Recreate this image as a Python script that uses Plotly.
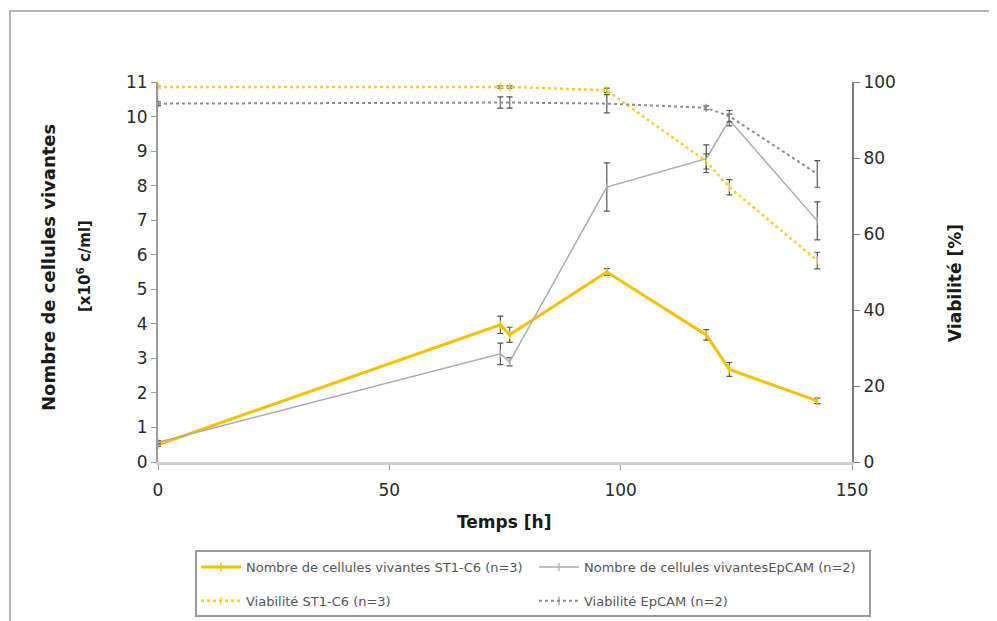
import plotly.graph_objects as go

# ---- data ----
time_h = [0, 74, 76, 97, 118.5, 123.5, 142.5]

st1_cells = [0.50, 3.97, 3.68, 5.50, 3.68, 2.68, 1.77]
st1_cells_err = [0.05, 0.25, 0.22, 0.10, 0.15, 0.20, 0.08]

epcam_cells = [0.57, 3.13, 2.90, 7.96, 8.78, 9.90, 6.98]
epcam_cells_err = [0.05, 0.31, 0.12, 0.70, 0.40, 0.17, 0.55]

st1_viab = [98.7, 98.7, 98.7, 97.8, 79.1, 72.3, 53.0]
st1_viab_err = [0.2, 0.3, 0.3, 0.6, 2.0, 2.0, 2.2]

epcam_viab = [94.3, 94.6, 94.6, 94.3, 93.2, 91.0, 75.8]
epcam_viab_err = [0.5, 1.5, 1.5, 2.4, 0.5, 1.5, 3.5]

names = [
    "Nombre de cellules vivantes ST1-C6 (n=3)",
    "Nombre de cellules vivantesEpCAM (n=2)",
    "Viabilité ST1-C6 (n=3)",
    "Viabilité EpCAM (n=2)",
]

YELLOW = "#F2C200"
YELLOW_L = "#F5CF2A"
GRAY = "#ABABAB"
GRAY_D = "#8C8C8C"
ERR = "#555555"
FONT = "DejaVu Sans, Liberation Sans, Arial, sans-serif"

fig = go.Figure()

fig.add_trace(go.Scatter(
    x=time_h, y=st1_cells, name=names[0], mode="lines+markers",
    line=dict(color=YELLOW, width=3),
    marker=dict(symbol="line-ns-open", size=6, color=YELLOW, line=dict(width=1.5, color=YELLOW)),
    error_y=dict(type="data", array=st1_cells_err, color=ERR, thickness=1.2, width=3),
    yaxis="y", legend="legend", legendgroup="a",
))
fig.add_trace(go.Scatter(
    x=time_h, y=epcam_cells, name=names[1], mode="lines+markers",
    line=dict(color=GRAY, width=1.5),
    marker=dict(symbol="line-ns-open", size=6, color=GRAY, line=dict(width=1.2, color=GRAY)),
    error_y=dict(type="data", array=epcam_cells_err, color=ERR, thickness=1.2, width=3),
    yaxis="y", legend="legend2", legendgroup="b",
))
fig.add_trace(go.Scatter(
    x=time_h, y=st1_viab, name=names[2], mode="lines+markers",
    line=dict(color=YELLOW_L, width=2.5, dash="dot"),
    marker=dict(symbol="line-ns-open", size=6, color=YELLOW_L, line=dict(width=1.2, color=YELLOW_L)),
    error_y=dict(type="data", array=st1_viab_err, color=ERR, thickness=1.2, width=3),
    yaxis="y2", legend="legend", legendgroup="c",
))
fig.add_trace(go.Scatter(
    x=time_h, y=epcam_viab, name=names[3], mode="lines+markers",
    line=dict(color=GRAY_D, width=2, dash="dot"),
    marker=dict(symbol="line-ns-open", size=6, color=GRAY_D, line=dict(width=1.2, color=GRAY_D)),
    error_y=dict(type="data", array=epcam_viab_err, color=ERR, thickness=1.2, width=3),
    yaxis="y2", legend="legend2", legendgroup="d",
))

# plot area in screenshot pixels (the page adds an 8 px body margin)
OFF = 8
L, R, T, B = 158, 852, 82, 462
W, H = 997 - OFF, 621 - OFF
pw, ph = R - L, B - T


def px(x):
    return (x - L) / pw


def py(y):
    return (B - y) / ph


tickfont = dict(family=FONT, size=17, color="#2a2a2a")
legfont = dict(family=FONT, size=13, color="#555555")

legend_common = dict(
    orientation="v", xanchor="left", yanchor="top",
    bgcolor="rgba(0,0,0,0)", borderwidth=0, font=legfont,
    traceorder="grouped", tracegroupgap=14, itemwidth=40,
)

fig.update_layout(
    width=W, height=H,
    margin=dict(l=L - OFF, r=W - (R - OFF), t=T - OFF, b=H - (B - OFF), autoexpand=False),
    paper_bgcolor="white", plot_bgcolor="white",
    font=dict(family=FONT, color="#333333"),
    xaxis=dict(
        range=[0, 150], tickvals=[0, 50, 100, 150], ticks="outside", ticklen=5,
        tickcolor="#999999", showgrid=False, zeroline=False,
        showline=True, linecolor="#CFCFCF", linewidth=3,
        tickfont=tickfont, automargin=False, ticklabelstandoff=6,
    ),
    yaxis=dict(
        range=[0, 11], dtick=1, ticks="outside", ticklen=5, tickcolor="#999999",
        showgrid=False, zeroline=False, showline=True, linecolor="#9A9A9A", linewidth=2,
        tickfont=tickfont, automargin=False,
    ),
    yaxis2=dict(
        range=[0, 100], dtick=20, ticks="outside", ticklen=6, tickcolor="#777777",
        overlaying="y", side="right", anchor="x",
        showgrid=False, zeroline=False, showline=True, linecolor="#7A7A7A", linewidth=2,
        tickfont=tickfont, automargin=False,
    ),
    showlegend=True,
    legend=dict(x=px(196), y=py(552), **legend_common),
    legend2=dict(x=px(534), y=py(552), **legend_common),
    annotations=[
        dict(text="<b>Nombre de cellules vivantes</b>", textangle=-90,
             x=px(48), y=py(268), xref="paper", yref="paper", showarrow=False,
             font=dict(family=FONT, size=18, color="#1a1a1a"), xanchor="center", yanchor="middle"),
        dict(text="<b>[x10<sup>6</sup> c/ml]</b>", textangle=-90,
             x=px(84), y=py(266), xref="paper", yref="paper", showarrow=False,
             font=dict(family=FONT, size=15, color="#1a1a1a"), xanchor="center", yanchor="middle"),
        dict(text="<b>Viabilité [%]</b>", textangle=-90,
             x=px(955), y=py(283), xref="paper", yref="paper", showarrow=False,
             font=dict(family=FONT, size=17, color="#1a1a1a"), xanchor="center", yanchor="middle"),
        dict(text="<b>Temps [h]</b>",
             x=px(504), y=py(522), xref="paper", yref="paper", showarrow=False,
             font=dict(family=FONT, size=17, color="#1a1a1a"), xanchor="center", yanchor="middle"),
    ],
    shapes=[
        dict(type="rect", xref="paper", yref="paper",
             x0=px(10), x1=px(1030), y0=py(660), y1=py(11),
             line=dict(color="#B5B5B5", width=2), fillcolor="rgba(0,0,0,0)", layer="below"),
        dict(type="rect", xref="paper", yref="paper",
             x0=px(196), x1=px(870), y0=py(616), y1=py(551),
             line=dict(color="#9A9A9A", width=2), fillcolor="white", layer="below"),
    ],
)

fig.write_html("out.html")
